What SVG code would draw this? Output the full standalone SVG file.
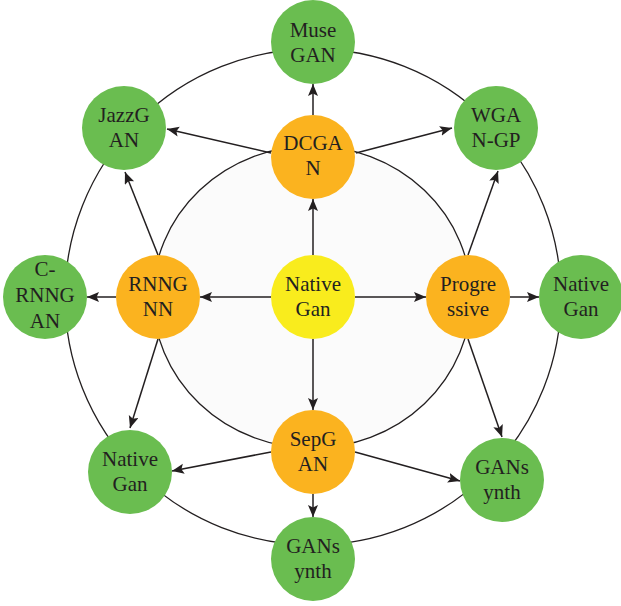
<svg xmlns="http://www.w3.org/2000/svg" width="621" height="606" viewBox="0 0 621 606">
<style>
.ring{fill:none;stroke:#231f20;stroke-width:1.3}
.inner{fill:#fbfbfb;stroke:#231f20;stroke-width:1.3}
.edge{stroke:#231f20;stroke-width:1.5;fill:none;marker-end:url(#arr)}
.g{fill:#6abd50}
.o{fill:#fbb31f}
.y{fill:#f9ec1d}
text{font-family:"Liberation Serif","Times New Roman",serif;font-size:21px;fill:#231f20;text-anchor:middle}
</style>
<defs>
<marker id="arr" markerUnits="userSpaceOnUse" markerWidth="13" markerHeight="11" refX="12" refY="5" orient="auto">
<path d="M0,0 L12,5 L0,10 L2.4,5 z" fill="#231f20"/>
</marker>
</defs>
<rect width="621" height="606" fill="#ffffff"/>
<circle class="ring" cx="313" cy="297" r="248"/>
<ellipse class="inner" cx="312" cy="297" rx="159" ry="151"/>
<g id="connectors">
<line class="edge" x1="313" y1="255" x2="313" y2="199"/>
<line class="edge" x1="271" y1="297" x2="200" y2="297"/>
<line class="edge" x1="355" y1="297" x2="426" y2="297"/>
<line class="edge" x1="313" y1="339" x2="313" y2="410"/>
<line class="edge" x1="313" y1="115" x2="313" y2="84"/>
<line class="edge" x1="271" y1="153" x2="167" y2="129"/>
<line class="edge" x1="356" y1="153" x2="452" y2="128"/>
<line class="edge" x1="116" y1="297" x2="87" y2="297"/>
<line class="edge" x1="158" y1="255" x2="125" y2="172"/>
<line class="edge" x1="158" y1="339" x2="130" y2="428"/>
<line class="edge" x1="468" y1="255" x2="498" y2="171"/>
<line class="edge" x1="510" y1="297" x2="539" y2="297"/>
<line class="edge" x1="468" y1="339" x2="502" y2="437"/>
<line class="edge" x1="313" y1="494" x2="313" y2="517"/>
<line class="edge" x1="271" y1="452" x2="172" y2="471"/>
<line class="edge" x1="355" y1="452" x2="460" y2="481"/>
</g>
<g id="native-center"><circle class="y" cx="313" cy="297" r="42"/><text x="313" y="291">Native</text><text x="313" y="316">Gan</text></g>
<g id="dcgan"><circle class="o" cx="313" cy="157" r="42"/><text x="313" y="150">DCGA</text><text x="313" y="175">N</text></g>
<g id="rnngnn"><circle class="o" cx="158" cy="297" r="42"/><text x="158" y="291">RNNG</text><text x="158" y="316">NN</text></g>
<g id="progressive"><circle class="o" cx="468" cy="297" r="42"/><text x="468" y="291">Progre</text><text x="468" y="316">ssive</text></g>
<g id="sepgan"><circle class="o" cx="313" cy="452" r="42"/><text x="313" y="446">SepG</text><text x="313" y="471">AN</text></g>
<g id="musegan"><circle class="g" cx="313" cy="42" r="42"/><text x="313" y="37">Muse</text><text x="313" y="62">GAN</text></g>
<g id="jazzgan"><circle class="g" cx="124" cy="128" r="42"/><text x="124" y="122">JazzG</text><text x="124" y="147">AN</text></g>
<g id="wgangp"><circle class="g" cx="496" cy="128" r="42"/><text x="496" y="122">WGA</text><text x="496" y="147">N-GP</text></g>
<g id="crnngan"><circle class="g" cx="45" cy="297" r="42"/><text x="45" y="276">C-</text><text x="45" y="302">RNNG</text><text x="45" y="328">AN</text></g>
<g id="native-right"><circle class="g" cx="581" cy="297" r="42"/><text x="581" y="291">Native</text><text x="581" y="316">Gan</text></g>
<g id="native-left"><circle class="g" cx="130" cy="472" r="42"/><text x="130" y="466">Native</text><text x="130" y="491">Gan</text></g>
<g id="gansynth-right"><circle class="g" cx="502" cy="480" r="42"/><text x="502" y="474">GANs</text><text x="502" y="499">ynth</text></g>
<g id="gansynth-bottom"><circle class="g" cx="313" cy="559" r="42"/><text x="313" y="553">GANs</text><text x="313" y="578">ynth</text></g>
</svg>
